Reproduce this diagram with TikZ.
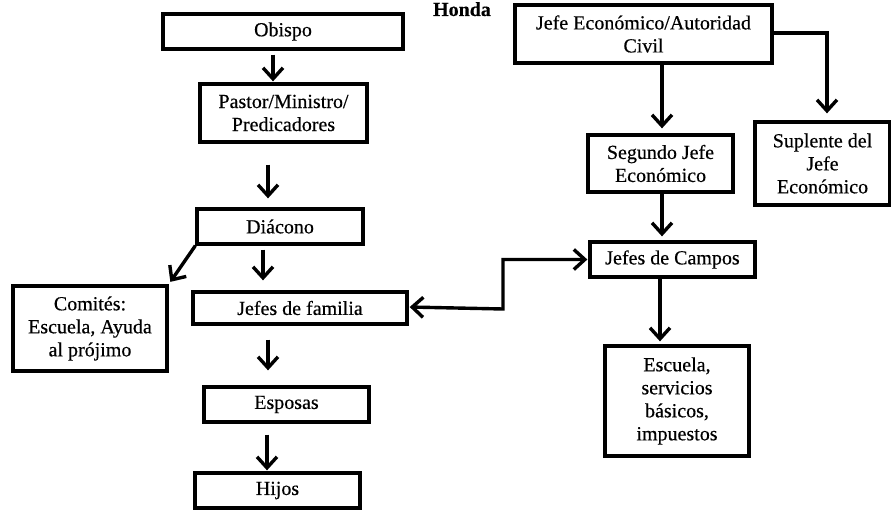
\documentclass[tikz,border=0pt]{standalone}
\usepackage{fontspec}
\setmainfont{Liberation Serif}[FakeBold=0.4]
\newfontfamily\titlefont{Liberation Serif}[FakeBold=0.4]
\usetikzlibrary{arrows.meta}
\tikzset{
  box/.style={draw, line width=3.3pt, align=center, inner sep=0pt,
    font=\fontsize{20}{23}\selectfont},
  arr/.style={line width=3.4pt, line cap=butt,
    -{Straight Barb[length=11pt,width=20pt]}},
  arrboth/.style={line width=3.4pt,
    {Straight Barb[length=11pt,width=20pt]}-{Straight Barb[length=11pt,width=20pt]}},
}
\begin{document}
\begin{tikzpicture}[x=1pt,y=-1pt]
\useasboundingbox (0,0) rectangle (891,510);
% title fragment
\node[font=\titlefont\fontsize{20}{23}\selectfont\bfseries, anchor=base] (title) at (462,16) {Honda};
% left column
\node[box, minimum width=240pt, minimum height=35pt] (obispo) at (283,31.5) {Obispo};
\node[box, minimum width=167pt, minimum height=58pt] (pastor) at (283.5,113) {Pastor/Ministro/\\Predicadores};
\node[box, minimum width=166pt, minimum height=35pt] (diacono) at (280,226.5) {Diácono};
\node[box, minimum width=154pt, minimum height=85pt] (comites) at (90,328.5) {Comités:\\Escuela, Ayuda\\al prójimo};
\node[box, minimum width=214pt, minimum height=32pt] (jf) at (300,308) {Jefes de familia};
\node[box, minimum width=165pt, minimum height=35pt] (esposas) at (286.5,404.5) {Esposas};
\node[box, minimum width=165pt, minimum height=35pt] (hijos) at (277.5,490.5) {Hijos};
% right column
\node[box, minimum width=257pt, minimum height=58pt] (je) at (643.5,34) {Jefe Económico/Autoridad\\Civil};
\node[box, minimum width=145pt, minimum height=57pt] (segundo) at (660.5,163.5) {Segundo Jefe\\Económico};
\node[box, minimum width=135pt, minimum height=83pt] (suplente) at (822.5,163.5) {Suplente del\\Jefe\\Económico};
\node[box, minimum width=165pt, minimum height=35pt] (campos) at (672.5,259.5) {Jefes de Campos};
\node[box, minimum width=144pt, minimum height=110pt] (escuela) at (677,401) {Escuela,\\servicios\\básicos,\\impuestos};
\coordinate (bend) at (503,309);
% left arrows
\draw[arr, shorten <=4pt, shorten >=1pt] ([xshift=-10pt]obispo.south) -- ([xshift=-10pt]obispo.south |- pastor.north);
\draw[arr, shorten <=21pt, shorten >=9pt] ([xshift=-15.5pt]pastor.south) -- ([xshift=-15.5pt]pastor.south |- diacono.north);
\draw[arr, shorten <=4pt, shorten >=10pt] ([xshift=-17pt]diacono.south) -- ([xshift=-17pt]diacono.south |- jf.north);
\draw[arr, shorten >=3pt] (diacono.south west) -- (comites.north east);
\draw[arr, shorten <=14pt, shorten >=15pt] ([xshift=-32pt]jf.south) -- ([xshift=-32pt]jf.south |- esposas.north);
\draw[arr, shorten <=11pt, shorten >=1pt] ([xshift=-19.5pt]esposas.south) -- ([xshift=-19.5pt]esposas.south |- hijos.north);
% right arrows
\draw[arr, shorten >=5pt] ([xshift=18.5pt]je.south) -- ([xshift=18.5pt]je.south |- segundo.north);
\draw[arr, shorten >=7pt] ([yshift=1pt]je.east) -| ([xshift=4.5pt]suplente.north);
\draw[arr, shorten >=4pt] ([xshift=1.5pt]segundo.south) -- ([xshift=1.5pt]segundo.south |- campos.north);
\draw[arr, shorten >=3pt] ([xshift=-12.5pt]campos.south) -- ([xshift=-12.5pt]campos.south |- escuela.north);
\draw[arrboth, shorten <=1pt, shorten >=1pt] ([yshift=1pt]jf.east) -- (bend) |- (campos.west);
\end{tikzpicture}
\end{document}
